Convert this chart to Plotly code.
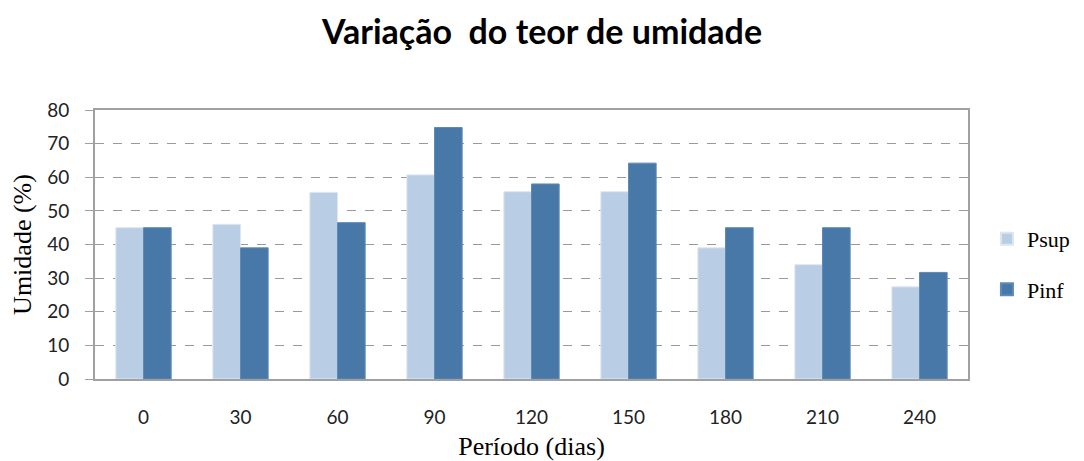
import plotly.graph_objects as go

categories = ["0", "30", "60", "90", "120", "150", "180", "210", "240"]
psup = [45, 46, 55.5, 60.7, 55.7, 55.7, 39, 34, 27.4]
pinf = [45, 39, 46.5, 74.8, 58, 64.2, 45, 45, 31.7]

fig = go.Figure()
fig.add_trace(go.Bar(name="Psup", x=categories, y=psup, legendgroup="a",
                     marker=dict(color="#B9CDE5", line=dict(color="#DCE6F2", width=1))))
fig.add_trace(go.Bar(name="Pinf", x=categories, y=pinf, legendgroup="b",
                     marker=dict(color="#4778A7", line=dict(color="#5E8AB6", width=1))))

fig.update_layout(
    width=1076, height=453,
    paper_bgcolor="white", plot_bgcolor="white",
    barmode="group", bargap=0.43, bargroupgap=0,
    margin=dict(l=87, r=116, t=102, b=82, autoexpand=False),
    title=dict(text="<b>Variação  do teor de umidade</b>", x=0.4963, xanchor="center",
               y=0.947, yanchor="middle",
               font=dict(family="Lato", size=34, color="black")),
    font=dict(family="Liberation Serif", size=24, color="black"),
    legend=dict(xref="container", yref="container", x=0.9098, y=0.434,
                xanchor="left", yanchor="middle",
                font=dict(family="Liberation Serif", size=22),
                itemsizing="constant", tracegroupgap=19),
    xaxis=dict(title=dict(text="Período (dias)", standoff=15,
                          font=dict(family="Liberation Serif", size=26)),
               automargin=False,
               showline=True, linecolor="#A0A0A0", linewidth=2, mirror=True,
               ticks="outside", ticklen=20, tickcolor="rgba(0,0,0,0)",
               tickfont=dict(family="Lato", size=19, color="#222")),
    yaxis=dict(title=dict(text="Umidade (%)", standoff=18,
                          font=dict(family="Liberation Serif", size=26)),
               automargin=False,
               range=[0, 80], dtick=10,
               showline=True, linecolor="#A0A0A0", linewidth=2, mirror=True,
               ticks="outside", ticklen=8, tickcolor="#A0A0A0", ticklabelstandoff=12,
               showgrid=True, gridcolor="#9A9A9A", griddash="dash", gridwidth=1,
               zeroline=False, tickfont=dict(family="Lato", size=19, color="#222")),
)

fig.write_html("out.html")
